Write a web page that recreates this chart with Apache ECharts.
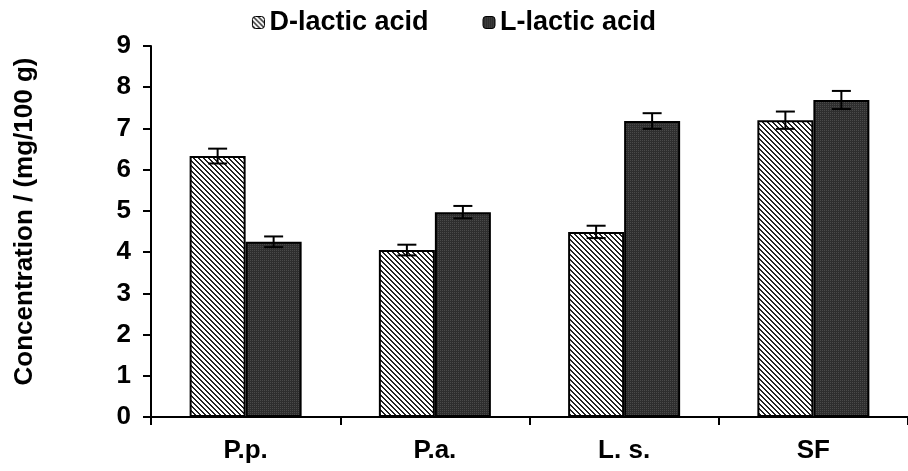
<!DOCTYPE html>
<html>
<head>
<meta charset="utf-8">
<script src="https://cdn.jsdelivr.net/npm/echarts@6/dist/echarts.min.js"></script>
<style>html,body{margin:0;padding:0;background:#fff}#c{width:908px;height:471px}</style>
</head>
<body>
<div id="c"></div>
<script>
const categories = ['P.p.', 'P.a.', 'L. s.', 'SF'];
const dLactic = [6.33, 4.05, 4.49, 7.20];
const dLacticErr = [0.18, 0.13, 0.15, 0.21];
const lLactic = [4.25, 4.97, 7.18, 7.69];
const lLacticErr = [0.13, 0.15, 0.19, 0.22];
const yTicks = [0, 1, 2, 3, 4, 5, 6, 7, 8, 9];

function stripePattern() {
  const c = document.createElement('canvas');
  c.width = 5; c.height = 5;
  const ctx = c.getContext('2d');
  ctx.fillStyle = '#ffffff'; ctx.fillRect(0, 0, 5, 5);
  ctx.fillStyle = '#222222';
  for (let i = 0; i < 5; i++) {
    ctx.fillRect(i, i, 1, 1);
    ctx.fillRect((i + 1) % 5, i, 1, 1);
  }
  return c;
}
function dotPattern() {
  const c = document.createElement('canvas');
  c.width = 2; c.height = 2;
  const ctx = c.getContext('2d');
  ctx.fillStyle = '#2e2e2e'; ctx.fillRect(0, 0, 2, 2);
  ctx.fillStyle = '#4a4a4a'; ctx.fillRect(0, 0, 1, 1);
  return c;
}
const dFill = { image: stripePattern(), repeat: 'repeat' };
const lFill = { image: dotPattern(), repeat: 'repeat' };
const BAR_W = 56;

function errSeries(values, errs, side) {
  return {
    type: 'custom',
    z: 10,
    silent: true,
    data: values.map((v, i) => [i, v, errs[i]]),
    renderItem: function (params, api) {
      const i = api.value(0), v = api.value(1), e = api.value(2);
      const c = api.coord([i, v]);
      const x = c[0] + side * BAR_W / 2;
      const yt = api.coord([i, v + e])[1];
      const yb = api.coord([i, v - e])[1];
      const hw = 9.5;
      const st = { stroke: '#000', lineWidth: 2 };
      return {
        type: 'group',
        children: [
          { type: 'line', shape: { x1: x, y1: yt, x2: x, y2: yb }, style: st },
          { type: 'line', shape: { x1: x - hw, y1: yt, x2: x + hw, y2: yt }, style: st },
          { type: 'line', shape: { x1: x - hw, y1: yb, x2: x + hw, y2: yb }, style: st }
        ]
      };
    }
  };
}

const chart = echarts.init(document.getElementById('c'));
const bold = { fontFamily: 'Arial, "Liberation Sans", sans-serif', fontWeight: 'bold', fontSize: 26, color: '#000' };
chart.setOption({
  animation: false,
  legend: {
    top: 4,
    left: 'center',
    itemWidth: 12,
    itemHeight: 12,
    itemGap: 54,
    textStyle: Object.assign({}, bold, { fontSize: 27 }),
    data: [
      { name: 'D-lactic acid', itemStyle: { color: dFill, borderColor: '#000', borderWidth: 1 } },
      { name: 'L-lactic acid', itemStyle: { color: lFill, borderColor: '#000', borderWidth: 1 } }
    ]
  },
  grid: { left: 151, top: 46, width: 762, height: 371 },
  xAxis: {
    type: 'category',
    data: categories,
    axisLine: { lineStyle: { color: '#000', width: 2 } },
    axisTick: { show: true, length: 8, lineStyle: { color: '#000', width: 2 } },
    axisLabel: Object.assign({}, bold, { margin: 21 })
  },
  yAxis: {
    type: 'value',
    min: yTicks[0],
    max: yTicks[yTicks.length - 1],
    interval: 1,
    name: 'Concentration / (mg/100 g)',
    nameLocation: 'middle',
    nameGap: 113,
    nameTextStyle: Object.assign({}, bold, { padding: [0, 0, 0, 20] }),
    splitLine: { show: false },
    axisLine: { show: true, lineStyle: { color: '#000', width: 2 } },
    axisTick: { show: true, length: 8, lineStyle: { color: '#000', width: 2 } },
    axisLabel: Object.assign({}, bold, { margin: 20 })
  },
  series: [
    {
      name: 'D-lactic acid', type: 'bar', barWidth: BAR_W, barGap: '0%',
      data: dLactic,
      itemStyle: { color: dFill, borderColor: '#000', borderWidth: 2 }
    },
    {
      name: 'L-lactic acid', type: 'bar', barWidth: BAR_W, barGap: '0%',
      data: lLactic,
      itemStyle: { color: lFill, borderColor: '#000', borderWidth: 2 }
    },
    errSeries(dLactic, dLacticErr, -1),
    errSeries(lLactic, lLacticErr, 1)
  ]
});
</script>
</body>
</html>
